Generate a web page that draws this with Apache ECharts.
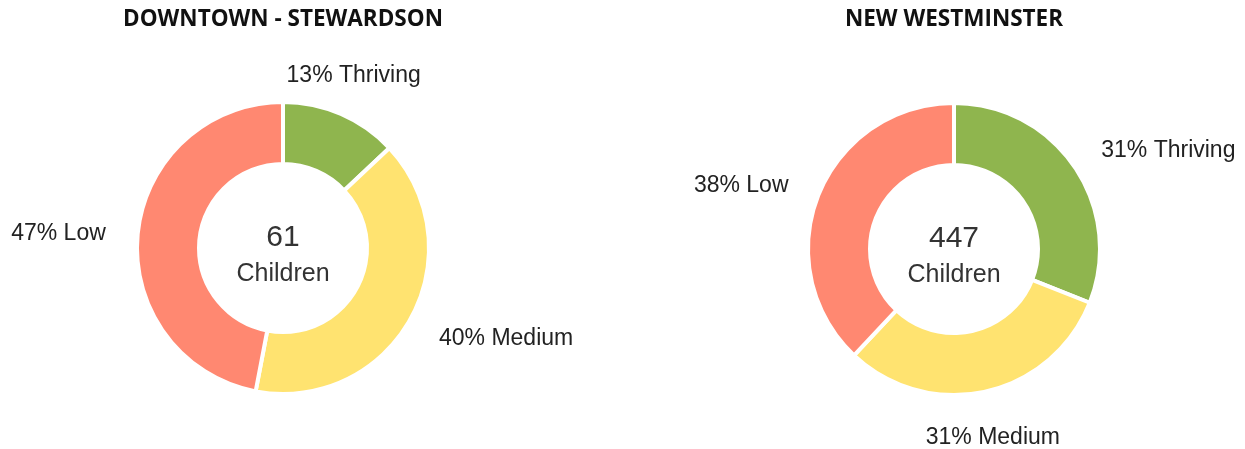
<!DOCTYPE html>
<html>
<head>
<meta charset="utf-8">
<script src="https://cdn.jsdelivr.net/npm/echarts@6/dist/echarts.min.js"></script>
<style>
html,body{margin:0;padding:0;background:#fff;}
#chart{width:1245px;height:449px;}
</style>
</head>
<body>
<div id="chart"></div>
<script>
const regions = ['DOWNTOWN - STEWARDSON', 'NEW WESTMINSTER'];
const totals = [61, 447];
const categories = ['Thriving', 'Medium', 'Low'];
const downtownValues = [13, 40, 47];
const newWestValues = [31, 31, 38];
const seriesValues = [downtownValues, newWestValues];
const sliceColors = ['#8FB54E', '#FFE370', '#FF8871'];

const centers = [[283, 248], [954, 249]];

function midAngle(values, idx) {
  const sum = values.reduce((a, b) => a + b, 0);
  let acc = 0;
  for (let i = 0; i < idx; i++) acc += values[i];
  return (acc + values[idx] / 2) / sum * 2 * Math.PI;
}

const chart = echarts.init(document.getElementById('chart'), null, {renderer: 'canvas'});

const titles = [];
const series = [];
seriesValues.forEach((vals, s) => {
  const [cx, cy] = centers[s];
  titles.push({
    text: regions[s], left: cx, top: 8, textAlign: 'center', padding: 0,
    textStyle: {fontFamily: 'Open Sans', fontWeight: 700, fontSize: 22.5, color: '#111'}
  });
  titles.push({
    text: String(totals[s]), left: cx, top: cy - 25, textAlign: 'center', padding: 0,
    textStyle: {fontFamily: 'Liberation Sans', fontWeight: 400, fontSize: 30, color: '#333'}
  });
  titles.push({
    text: 'Children', left: cx, top: cy + 14, textAlign: 'center', padding: 0,
    textStyle: {fontFamily: 'Liberation Sans', fontWeight: 400, fontSize: 25, color: '#333'}
  });
  series.push({
    type: 'pie',
    center: [cx, cy],
    radius: [84, 146],
    startAngle: 90,
    clockwise: true,
    avoidLabelOverlap: false,
    silent: true,
    animation: false,
    itemStyle: {borderColor: '#fff', borderWidth: 4},
    label: {
      show: true,
      position: 'outside',
      distanceToLabelLine: 0,
      formatter: p => p.value + '% ' + p.name,
      fontFamily: 'Liberation Sans',
      fontSize: 23,
      color: '#222'
    },
    labelLine: {show: false, length: 32, length2: 0},
    labelLayout: function (params) {
      const a = midAngle(vals, params.dataIndex);
      const sn = Math.sin(a), cs = Math.cos(a);
      if (Math.abs(sn) < 0.5) {
        return {align: 'center', verticalAlign: cs > 0 ? 'bottom' : 'top', dy: 3};
      }
      return {dy: cs < 0 ? 5 : 2};
    },
    data: categories.map((c, i) => ({name: c, value: vals[i], itemStyle: {color: sliceColors[i]}}))
  });
});

chart.setOption({
  backgroundColor: '#fff',
  animation: false,
  title: titles,
  series: series
});
</script>
</body>
</html>
